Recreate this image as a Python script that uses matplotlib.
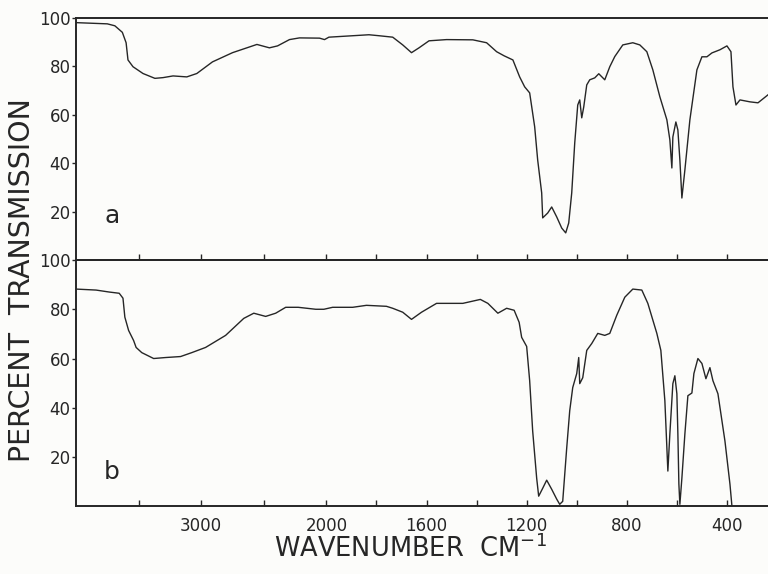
import numpy as np
import matplotlib
matplotlib.use("Agg")
import matplotlib.pyplot as plt

# spectrum a (top panel): wavenumber (cm-1) vs percent transmission
wn_a = [4000, 3750, 3690, 3630, 3600, 3585, 3545, 3465, 3370, 3305, 3225, 3115, 3035,
        2910, 2750, 2555, 2455, 2390, 2295, 2215, 2055, 2015, 1990, 1910, 1830, 1790,
        1735, 1695, 1660, 1630, 1590, 1520, 1415, 1360, 1320, 1290, 1255, 1228, 1208,
        1188, 1168, 1156, 1140, 1136, 1116, 1100, 1080, 1060, 1044, 1032, 1020, 1008,
        996, 988, 980, 972, 960, 948, 928, 912, 888, 868, 848, 816, 776, 748, 720, 696,
        668, 640, 628, 620, 616, 604, 596, 588, 580, 568, 548, 520, 500, 480, 460, 428,
        400, 384, 376, 364, 348, 308, 276, 236]
t_a = [98, 97.5, 96.7, 94, 89.7, 82.6, 79.8, 77, 75, 75.3, 76, 75.6, 77,
       81.8, 85.6, 89, 87.6, 88.4, 91, 91.7, 91.6, 91, 92, 92.5, 93, 92.6,
       92, 88.8, 85.6, 87.6, 90.5, 91, 90.9, 89.7, 86, 84.3, 82.6, 75.6, 71.5,
       69, 55, 41.3, 27.7, 17.4, 19.4, 21.9, 17.8, 13.2, 11.2, 15.3, 27.7, 48.3,
       64, 66.1, 58.7, 63.2, 72.3, 74.4, 75.2, 76.9, 74.4, 79.8, 84, 88.8, 89.7, 88.8, 86, 78.5,
       67.4, 57.9, 49.6, 38, 50.8, 57, 53.7, 41.3, 25.6, 37.2, 57.9, 78.5, 83.9, 83.9, 85.5, 86.8,
       88.4, 86, 71.5, 64, 66.1, 65.3, 64.9, 68.2]

# spectrum b (bottom panel)
wn_b = [4000, 3840, 3735, 3655, 3625, 3610, 3580, 3540, 3520, 3475, 3380, 3285, 3165,
        3075, 2965, 2805, 2660, 2580, 2485, 2405, 2325, 2225, 2085, 2020, 1975, 1895,
        1840, 1760, 1735, 1695, 1660, 1620, 1560, 1455, 1385, 1355, 1315, 1280, 1250,
        1230, 1220, 1200, 1188, 1176, 1160, 1152, 1136, 1120, 1100, 1080, 1068, 1056,
        1040, 1028, 1016, 1000, 992, 988, 976, 960, 940, 916, 888, 868, 840, 808, 776,
        740, 716, 680, 664, 648, 636, 628, 616, 608, 600, 596, 592, 588, 580, 568, 556,
        540, 532, 516, 500, 484, 468, 456, 436, 408, 388, 380]
t_b = [88.2, 87.8, 87, 86.5, 84.5, 76.8, 71.4, 67.3, 64.5, 62.4, 60, 60.4, 60.8,
       62.4, 64.5, 69.4, 76.3, 78.4, 77.1, 78.4, 80.8, 80.8, 80, 80, 80.8, 80.8,
       81.6, 81.2, 80.4, 78.8, 75.9, 78.8, 82.4, 82.4, 84, 82.4, 78.4, 80.4, 79.6,
       74.7, 68.6, 64.9, 51, 30.6, 11.4, 4.1, 7.3, 10.6, 6.9, 2.9, 0.8, 2,
       23.7, 38.8, 48.2, 53.9, 60.4, 49.8, 52.2, 63.3, 66.1, 70.2, 69.4, 70.2, 77.6, 84.9, 88.2,
       87.8, 82.4, 70.2, 63.3, 42.9, 14.3, 29.4, 49.8, 53, 45.7, 29.4, 9, 0.8, 11.4, 29.4, 44.9,
       46, 53.9, 60, 58, 51.8, 56.3, 51, 45.7, 26.5, 9, 0]

major_ticks = [3000, 2000, 1600, 1200, 800, 400]
minor_ticks = [3500, 2500, 1800, 1400, 1000, 600]
y_ticks = [20, 40, 60, 80, 100]

ink = "#262626"


# chart paper: scale halves above 2000 cm-1
def fwd(w):
    w = np.asarray(w, dtype=float)
    return np.where(w <= 2000, w, 2000 + (w - 2000) / 2)


def inv(u):
    u = np.asarray(u, dtype=float)
    return np.where(u <= 2000, u, 2000 + 2 * (u - 2000))


fig = plt.figure(figsize=(7.68, 5.74), dpi=100)
fig.patch.set_facecolor("#fcfcfa")
ax_a = fig.add_axes([0.099, 0.547, 0.901, 0.422])
ax_b = fig.add_axes([0.099, 0.118, 0.901, 0.429])

for ax, wn, t, tag, tag_y in [(ax_a, wn_a, t_a, "a", 18), (ax_b, wn_b, t_b, "b", 14)]:
    ax.set_facecolor("none")
    ax.set_xscale("function", functions=(fwd, inv))
    ax.plot(wn, t, color=ink, lw=1.0, clip_on=True)
    ax.set_xlim(4000, 236)
    ax.set_ylim(0, 100)
    ax.set_xticks(major_ticks)
    ax.set_xticks(minor_ticks, minor=True)
    ax.set_yticks(y_ticks)
    ax.tick_params(axis="x", which="both", direction="in", length=4, width=1.0,
                   color=ink, labelsize=12, labelcolor=ink, pad=8)
    ax.tick_params(axis="y", direction="out", length=3, width=1.0, color=ink,
                   labelsize=12, labelcolor=ink, pad=1)
    ax.spines["right"].set_visible(False)
    for s in ["top", "left", "bottom"]:
        ax.spines[s].set_color(ink)
        ax.spines[s].set_linewidth(1.4)
    ax.text(3715, tag_y, tag, fontsize=18, color=ink, ha="center", va="center")

ax_a.tick_params(axis="x", labelbottom=False)

fig.text(0.029, 0.512, "PERCENT  TRANSMISSION", rotation=90, fontsize=20.5,
         color=ink, ha="center", va="center")
fig.text(0.535, 0.019, "WAVENUMBER  CM$^{-1}$", fontsize=18.5, color=ink,
         ha="center", va="bottom")

fig.savefig("out.png", dpi=100, facecolor=fig.get_facecolor())
